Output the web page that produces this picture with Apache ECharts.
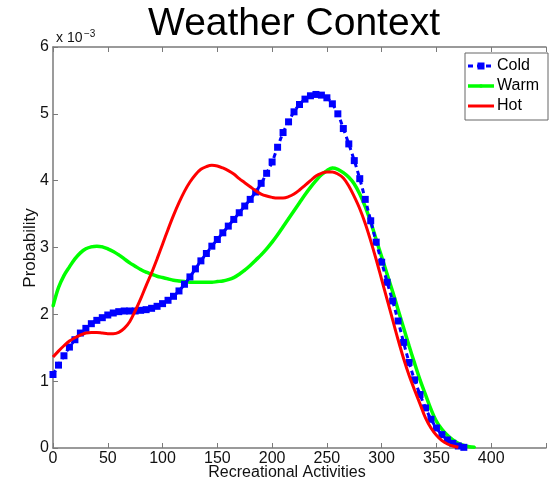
<!DOCTYPE html>
<html>
<head>
<meta charset="utf-8">
<script src="https://cdn.jsdelivr.net/npm/echarts@6/dist/echarts.min.js"></script>
<style>
html,body{margin:0;padding:0;background:#fff;}
#chart{width:549px;height:487px;}
</style>
</head>
<body>
<div id="chart"></div>
<script>
// x grid (Recreational Activities)
var xValues = [0,5,10,15,20,25,30,35,40,45,50,55,60,65,70,75,80,85,90,95,100,105,110,115,120,125,130,135,140,145,150,155,160,165,170,175,180,185,190,195,200,205,210,215,220,225,230,235,240,245,250,255,260,265,270,275,280,285,290,295,300,305,310,315,320,325,330,335,340,345,350,355,360,365,370,375,380,385];

// Probability values (x 10^-3)
var coldValues = [1.10,1.24,1.38,1.51,1.62,1.72,1.79,1.86,1.91,1.95,1.99,2.02,2.04,2.05,2.05,2.05,2.06,2.07,2.09,2.12,2.16,2.21,2.27,2.35,2.45,2.56,2.68,2.80,2.91,3.02,3.12,3.22,3.32,3.42,3.52,3.62,3.72,3.83,3.96,4.11,4.28,4.50,4.72,4.88,5.03,5.14,5.22,5.27,5.29,5.28,5.24,5.15,5.00,4.78,4.55,4.30,4.03,3.72,3.40,3.08,2.78,2.48,2.20,1.90,1.58,1.28,1.02,0.80,0.60,0.43,0.30,0.20,0.12,0.07,0.03,0.01];

var warmValues = [2.12,2.40,2.58,2.71,2.83,2.92,2.98,3.01,3.02,3.01,2.98,2.94,2.89,2.83,2.77,2.72,2.67,2.63,2.60,2.57,2.55,2.53,2.51,2.50,2.49,2.48,2.48,2.48,2.48,2.48,2.49,2.50,2.52,2.55,2.60,2.66,2.73,2.81,2.89,2.98,3.08,3.19,3.31,3.43,3.55,3.67,3.79,3.90,4.00,4.09,4.15,4.19,4.17,4.12,4.05,3.95,3.80,3.61,3.38,3.12,2.86,2.60,2.34,2.07,1.80,1.53,1.27,1.02,0.80,0.58,0.40,0.28,0.19,0.12,0.07,0.04,0.02,0.01];

var hotValues = [1.36,1.45,1.53,1.60,1.65,1.69,1.72,1.73,1.73,1.72,1.71,1.71,1.73,1.79,1.89,2.05,2.23,2.43,2.62,2.83,3.05,3.27,3.48,3.67,3.84,3.98,4.09,4.17,4.21,4.23,4.22,4.19,4.15,4.10,4.03,3.97,3.91,3.85,3.80,3.77,3.75,3.74,3.74,3.76,3.80,3.86,3.93,4.00,4.07,4.11,4.13,4.13,4.10,4.04,3.92,3.76,3.58,3.36,3.10,2.82,2.52,2.22,1.92,1.62,1.34,1.09,0.87,0.66,0.45,0.30,0.19,0.11,0.06,0.03,0.01];

var seriesNames = ['Cold', 'Warm', 'Hot'];
var xTicks = [0,50,100,150,200,250,300,350,400];
var yTicks = [0,1,2,3,4,5,6];

function pairs(vals){
  var out = [];
  for (var i = 0; i < vals.length; i++) out.push([xValues[i], vals[i]]);
  return out;
}

var FONT = '"Liberation Sans", Arial, sans-serif';
var axisGray = '#7a7a7a';
var BLUE = '#0000ff', GREEN = '#00ff00', RED = '#ff0000';

// legend (drawn as graphics to match MATLAB legend look)
var LX = 465, LY = 53;
var legendGraphics = [
  {type: 'rect', shape: {x: LX, y: LY, width: 83, height: 67}, style: {fill: '#fff', stroke: '#666', lineWidth: 1}, z: 100},
  // Cold
  {type: 'line', shape: {x1: LX + 3, y1: LY + 13, x2: LX + 29, y2: LY + 13}, style: {stroke: BLUE, lineWidth: 3, lineDash: [5, 4]}, z: 101},
  {type: 'rect', shape: {x: LX + 12.5, y: LY + 9.5, width: 7, height: 7}, style: {fill: BLUE}, z: 102},
  {type: 'text', x: LX + 32, y: LY + 13, style: {text: seriesNames[0], font: '16px ' + FONT, fill: '#000', verticalAlign: 'middle'}, z: 102},
  // Warm
  {type: 'line', shape: {x1: LX + 3, y1: LY + 33, x2: LX + 29, y2: LY + 33}, style: {stroke: GREEN, lineWidth: 3.5}, z: 101},
  {type: 'circle', shape: {cx: LX + 16, cy: LY + 33, r: 1.8}, style: {fill: GREEN}, z: 102},
  {type: 'text', x: LX + 32, y: LY + 33, style: {text: seriesNames[1], font: '16px ' + FONT, fill: '#000', verticalAlign: 'middle'}, z: 102},
  // Hot
  {type: 'line', shape: {x1: LX + 3, y1: LY + 53, x2: LX + 29, y2: LY + 53}, style: {stroke: RED, lineWidth: 3}, z: 101},
  {type: 'text', x: LX + 32, y: LY + 53, style: {text: seriesNames[2], font: '16px ' + FONT, fill: '#000', verticalAlign: 'middle'}, z: 102}
];

var chart = echarts.init(document.getElementById('chart'), null, {renderer:'canvas'});
var option = {
  animation: false,
  backgroundColor: '#ffffff',
  grid: {left: 53, top: 47, width: 503, height: 401, containLabel: false},
  xAxis: [{
    type: 'value', min: 0, max: 450, interval: 50,
    axisLine: {show: true, lineStyle: {color: axisGray, width: 1.5}},
    axisTick: {show: true, inside: true, length: 5, lineStyle: {color: axisGray}},
    axisLabel: {margin: 3, fontFamily: FONT, fontSize: 16, color: '#111',
      formatter: function(v){ return xTicks.indexOf(v) >= 0 ? String(v) : ''; }},
    splitLine: {show: false}
  },{
    type: 'value', min: 0, max: 450, interval: 50, position: 'top',
    axisLine: {show: true, onZero: false, lineStyle: {color: axisGray, width: 1.5}},
    axisTick: {show: true, inside: true, length: 5, lineStyle: {color: axisGray}},
    axisLabel: {show: false},
    splitLine: {show: false}
  }],
  yAxis: [{
    type: 'value', min: 0, max: 6, interval: 1,
    axisLine: {show: true, lineStyle: {color: axisGray, width: 1.5}},
    axisTick: {show: true, inside: true, length: 5, lineStyle: {color: axisGray}},
    axisLabel: {margin: 4, fontFamily: FONT, fontSize: 16, color: '#111',
      formatter: function(v){ return yTicks.indexOf(v) >= 0 ? String(v) : ''; }},
    splitLine: {show: false}
  }],
  graphic: [
    {type: 'text', x: 294, y: 24, style: {text: 'Weather Context', font: '39px ' + FONT, fill: '#000', align: 'center', verticalAlign: 'middle'}},
    {type: 'text', x: 56, y: 45, style: {text: 'x 10', font: '14px ' + FONT, fill: '#111', align: 'left', verticalAlign: 'bottom'}},
    {type: 'text', x: 84, y: 39, style: {text: '\u22123', font: '10px ' + FONT, fill: '#111', align: 'left', verticalAlign: 'bottom'}},
    {type: 'text', x: 30, y: 248, rotation: Math.PI / 2, style: {text: 'Probability', font: '17px ' + FONT, fill: '#111', align: 'center', verticalAlign: 'middle'}},
    {type: 'text', x: 287, y: 473, style: {text: 'Recreational Activities', font: '16px ' + FONT, fill: '#111', align: 'center', verticalAlign: 'middle'}}
  ].concat(legendGraphics),
  series: [
    {name: seriesNames[0], type: 'line', data: pairs(coldValues), smooth: 0.35,
     symbol: 'rect', symbolSize: 7, showSymbol: true, color: BLUE,
     itemStyle: {color: BLUE},
     lineStyle: {color: BLUE, width: 3, type: [5, 4]}, z: 3},
    {name: seriesNames[1], type: 'line', data: pairs(warmValues), smooth: 0.35,
     symbol: 'circle', symbolSize: 2.5, showSymbol: true, color: GREEN,
     itemStyle: {color: GREEN},
     lineStyle: {color: GREEN, width: 3.5}, z: 2},
    {name: seriesNames[2], type: 'line', data: pairs(hotValues), smooth: 0.35,
     symbol: 'none', showSymbol: false, color: RED,
     lineStyle: {color: RED, width: 3}, z: 4}
  ]
};
chart.setOption(option);
</script>
</body>
</html>
